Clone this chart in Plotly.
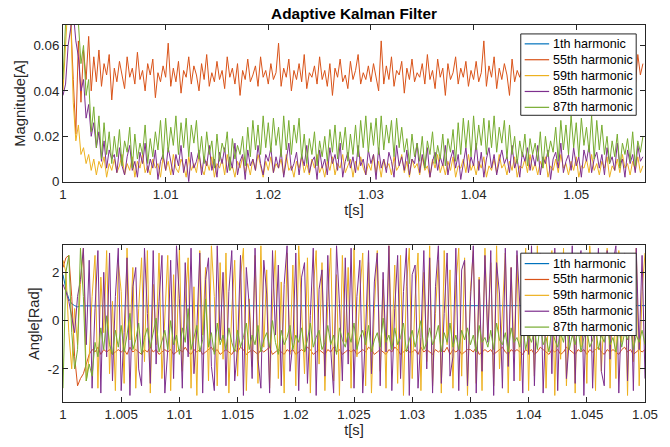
import plotly.graph_objects as go

# ---------------- sampling ----------------
T0 = 1.0
DT = 0.00025

# ---------------- magnitude data (mA) ----------------
mag_h1_t = [1.0, 1.0565]
mag_h1_A = [1.0, 1.0]  # off-scale (above axis range)

mag_h55_mA = [
    80, 95, 90, 72, 45, 21, 62, 35, 58, 45, 64, 40, 55, 44, 58, 42, 52, 47, 56, 36,
    50, 44, 53, 47, 41, 55, 46, 50, 43, 57, 45, 49, 40, 52, 47, 54, 37, 48, 44, 51,
    46, 61, 42, 50, 44, 53, 39, 49, 46, 55, 43, 51, 47, 40, 52, 45, 56, 42, 48, 44,
    53, 45, 49, 41, 55, 46, 50, 43, 52, 38, 49, 45, 54, 44, 47, 51, 42, 55, 46, 49,
    43, 52, 45, 48, 61, 42, 50, 46, 54, 40, 49, 45, 52, 44, 56, 41, 48, 46, 51, 43,
    55, 45, 49, 42, 52, 38, 50, 46, 54, 44, 47, 41, 53, 45, 49, 56, 43, 48, 45, 51,
    44, 52, 46, 40, 62, 43, 51, 45, 55, 42, 49, 47, 53, 39, 50, 45, 54, 44, 48, 46,
    52, 43, 56, 45, 49, 41, 54, 46, 50, 38, 52, 45, 48, 55, 43, 50, 46, 53, 42, 49,
    45, 53, 44, 48, 62, 42, 51, 46, 55, 41, 50, 45, 52, 47, 38, 54, 44, 49, 46, 51,
    43, 55, 46, 49, 42, 53, 45, 50, 39, 52, 47, 54, 44, 48, 45, 51, 56, 43, 49, 46,
    52, 44, 55, 41, 60, 46, 50, 43, 53, 45, 48, 40, 52, 47, 55, 44, 49, 46, 51, 43,
    54, 45, 50, 42, 56, 47, 52,
]

mag_h59_mA = [
    40, 60, 80, 72, 35, 18, 25, 12, 15, 8, 12, 5, 10, 3, 9, 6, 11, 2, 8, 5,
    10, 4, 7, 12, 3, 8, 5, 11, 2, 9, 6, 12, 4, 7, 3, 10, 6, 8, 2, 11,
    5, 9, 3, 12, 6, 4, 10, 7, 2, 11, 5, 8, 4, 12, 6, 3, 9, 5, 11, 2,
    8, 6, 10, 3, 12, 5, 7, 2, 9, 6, 11, 4, 8, 3, 10, 5, 12, 7, 2, 9,
    5, 11, 4, 8, 6, 10, 3, 12, 5, 7, 2, 9, 6, 11, 4, 8, 3, 10, 6, 12,
    4, 7, 2, 9, 5, 11, 3, 8, 6, 12, 4, 7, 10, 2, 9, 5, 11, 6, 3, 8,
    5, 12, 4, 9, 2, 10, 6, 8, 3, 11, 5, 7, 12, 4, 9, 2, 10, 6, 8, 3,
    11, 5, 7, 2, 10, 6, 12, 4, 8, 3, 9, 5, 11, 2, 7, 6, 10, 4, 12, 5,
    8, 3, 9, 6, 11, 2, 7, 5, 10, 4, 12, 6, 8, 3, 9, 5, 11, 2, 7, 6,
    10, 4, 12, 5, 8, 3, 9, 6, 11, 2, 7, 5, 10, 4, 12, 6, 8, 3, 9, 5,
    11, 2, 7, 6, 10, 4, 12, 5, 8, 3, 9, 6, 11, 2, 7, 5, 10, 4, 12, 6,
    8, 3, 9, 5, 11, 4, 7,
]

mag_h85_mA = [
    38, 43, 60, 70, 75, 62, 55, 40, 45, 28, 34, 20, 26, 15, 22, 9, 18, 6, 14, 10,
    12, 4, 15, 7, 3, 11, 16, 5, 9, 2, 13, 8, 17, 4, 10, 6, 14, 1, 9, 12,
    5, 15, 8, 3, 12, 7, 16, 4, 10, 0, 13, 6, 9, 14, 3, 11, 7, 16, 5, 10,
    2, 13, 8, 15, 4, 11, 6, 17, 3, 9, 12, 1, 14, 7, 10, 5, 16, 8, 3, 12,
    9, 15, 4, 11, 6, 14, 2, 10, 17, 5, 8, 13, 3, 12, 7, 16, 4, 9, 11, 1,
    14, 6, 10, 3, 15, 8, 12, 5, 17, 2, 9, 13, 6, 11, 4, 16, 7, 10, 3, 14,
    8, 12, 1, 15, 6, 10, 4, 13, 9, 2, 16, 7, 11, 5, 14, 3, 10, 8, 17, 4,
    12, 6, 15, 2, 9, 13, 5, 11, 7, 16, 3, 10, 14, 6, 12, 1, 9, 15, 4, 11,
    7, 17, 5, 13, 2, 10, 15, 6, 12, 3, 9, 14, 8, 11, 4, 16, 6, 10, 2, 13,
    9, 15, 5, 12, 7, 16, 3, 11, 8, 14, 1, 10, 13, 6, 17, 4, 9, 12, 5, 15,
    7, 11, 2, 14, 9, 16, 4, 10, 13, 6, 12, 3, 15, 8, 11, 5, 17, 7, 10, 2,
    14, 8, 12, 4, 16, 9, 11,
]

mag_h87_mA = [
    45, 92, 95, 90, 85, 78, 70, 52, 60, 38, 45, 22, 33, 15, 29, 10, 26, 12, 22, 8,
    20, 11, 23, 7, 18, 13, 24, 6, 21, 10, 17, 12, 25, 8, 19, 11, 22, 14, 27, 10,
    28, 13, 24, 16, 29, 12, 26, 15, 28, 11, 25, 17, 27, 10, 20, 8, 22, 12, 18, 6,
    21, 9, 17, 13, 22, 5, 19, 10, 16, 12, 20, 7, 24, 11, 27, 14, 25, 12, 29, 15,
    26, 13, 28, 16, 24, 11, 29, 14, 27, 12, 25, 17, 28, 10, 21, 8, 19, 12, 22, 7,
    18, 11, 20, 9, 23, 13, 25, 10, 22, 14, 24, 9, 21, 12, 25, 11, 27, 15, 29, 13,
    26, 16, 28, 12, 29, 14, 25, 17, 27, 11, 28, 15, 24, 13, 19, 8, 21, 11, 17, 9,
    20, 6, 18, 12, 22, 8, 16, 10, 21, 7, 19, 13, 23, 9, 26, 12, 28, 15, 27, 11,
    29, 14, 25, 16, 28, 12, 27, 15, 29, 13, 24, 17, 27, 10, 25, 12, 20, 8, 18, 11,
    21, 7, 19, 12, 17, 9, 22, 6, 20, 11, 18, 13, 24, 9, 27, 14, 25, 12, 29, 15,
    26, 11, 28, 16, 24, 13, 29, 10, 27, 14, 25, 12, 20, 8, 18, 11, 21, 6, 17, 12,
    19, 9, 22, 7, 18, 13, 20,
]

# ---------------- angle data (0.1 rad units) ----------------
ang_h1_t = [1.0, 1.00025, 1.0005, 1.00075, 1.001, 1.00125, 1.0015, 1.05]
ang_h1_rad = [1.9, 1.3, 0.9, 0.7, 0.62, 0.57, 0.61, 0.62]

ang_h55_d = [
    22, 26, 27, 10, -15, -27, -24, -22, -18, -14, -12, -13, -11, -14, -12, -13, -12, -14, -13, -12,
    -13, -12, -14, -11, -13, -12, -13, -14, -12, -13, -11, -13, -12, -14, -13, -12, -13, -12, -14, -13,
    -12, -13, -11, -13, -14, -12, -13, -12, -14, -13, -12, -11, -13, -12, -14, -13, -12, -13, -14, -12,
    -13, -11, -12, -14, -13, -12, -13, -14, -12, -13, -12, -11, -14, -13, -12, -13, -14, -12, -13, -12,
    -14, -13, -12, -13, -11, -12, -14, -13, -12, -13, -14, -12, -13, -11, -13, -12, -14, -13, -12, -13,
    -12, -14, -13, -12, -13, -11, -12, -14, -13, -12, -13, -14, -12, -13, -11, -12, -14, -13, -12, -13,
    -13, -12, -14, -11, -13, -12, -13, -14, -12, -13, -12, -13, -11, -14, -12, -13, -12, -14, -13, -12,
    -12, -13, -11, -14, -13, -12, -13, -12, -14, -13, -12, -11, -13, -14, -12, -13, -12, -13, -14, -12,
    -13, -12, -14, -13, -11, -12, -13, -14, -12, -13, -12, -14, -13, -11, -12, -13, -14, -12, -13, -12,
    -14, -12, -13, -12, -11, -13, -14, -12, -13, -12, -13, -14, -12, -11, -13, -12, -14, -13, -12, -13,
    -12,
]

ang_h59_d = [
    25, 20, -5, -20, 5, -10, 15, 30, -25, -15, 10, 27, -28, 18, -5, 29, -22, 8, -29, 24,
    12, -26, 30, -8, 22, -28, 5, 26, -17, 29, -30, 15, -10, 28, -24, 3, 27, -29, 19, -13,
    30, -21, 7, 26, -28, 14, -31, 29, -6, 22, -25, 31, 10, -27, 24, -16, 28, -30, 4, 25,
    -23, 18, 30, -29, 9, -19, 27, -26, 31, -11, 21, -28, 6, 29, -24, 16, -30, 28, -14, 23,
    -27, 31, 2, -22, 26, -30, 13, 29, -18, 24, -29, 8, 30, -25, 19, -31, 27, -9, 22, -28,
    30, -15, 11, 28, -27, 24, -30, 5, 29, -21, 17, -28, 31, -12, 23, -26, 27, -31, 14, 30,
    -24, 9, 28, -29, 20, -17, 31, -27, 3, 25, -30, 29, -10, 21, -28, 15, 30, -23, 26, -31,
    12, 29, -26, 18, -29, 30, -8, 24, -27, 31, -20, 6, 28, -30, 22, -14, 27, -25, 10, 30,
    -29, 19, -23, 31, -5, 26, -28, 13, 29, -31, 21, -16, 30, -27, 8, 25, -30, 28, -11, 23,
    -26, 31, 15, -29, 27, -21, 4, 30, -28, 18, -24, 29, -9, 26, -31, 22, -17, 30, -27, 12,
    28,
]

ang_h85_d = [
    15, 12, 8, 2, -5, 10, 17, 30, -10, 25, -28, 5, 29, -30, 20, -15, 28, -25, 10, 30,
    -29, -5, 26, -31, 14, 22, -20, -27, 30, 3, -26, 29, -18, 8, 27, -30, -12, 25, -24, 31,
    9, -28, 24, -15, 30, -22, -3, 28, -30, 17, 26, -19, -29, 31, -8, 20, -27, 12, 29, -25,
    -11, 27, -31, 22, 6, -24, 30, -16, -28, 25, 11, -30, 29, -6, 23, -27, 15, 31, -21, -9,
    28, -29, 18, 24, -26, 2, 30, -31, 13, 21, -23, 27, -12, -30, 31, 7, -25, 26, -18, 30,
    -28, 10, 25, -30, -4, 29, -22, 16, 28, -27, 20, -13, 31, -29, 5, 27, -24, 12, 30, -31,
    19, 23, -28, -7, 29, -20, 26, -30, 14, 31, -26, 3, 28, -23, -15, 30, -29, 21, 25, -27,
    8, 31, -30, 17, -21, 27, -9, 29, -31, 24, 11, -28, 30, -19, 22, -25, 29, 6, -30, 26,
    -14, 31, -27, 18, 28, -30, 4, 25, -22, 30, -29, 13, 27, -24, -8, 31, -26, 20, 29, -31,
    15, 26, -28, 9, 30, -21, -27, 29, -16, 24, 31, -30, 7, 28, -25, 19, -29, 30, -12, 27,
    -24,
]

ang_h87_d = [
    -28, 20, 27, -5, -20, -12, 30, 10, -25, -18, -23, -9, -15, -3, -12, 2, -10, -14, -4, -11,
    -2, -13, -6, 3, -12, -8, -1, -14, -7, -3, -11, -5, 1, -13, -9, -4, -12, 0, -10, -6,
    -14, -3, -9, 5, -12, -7, -2, -13, -8, 9, -11, -5, -14, -1, -10, -6, -12, -3, -9, -13,
    -4, -11, -7, -1, -12, -6, -10, -2, -13, -8, -5, -11, 0, -9, -14, -4, -10, -7, -2, -12,
    -6, -9, -3, -13, -8, -1, -11, -7, -4, -12, -9, -2, -10, -6, -14, -3, -8, -11, -5, -9,
    -1, -12, -7, -4, -10, -2, -13, -8, -5, -11, 1, -9, -6, -12, -3, -10, -7, -1, -13, -8,
    -4, -11, -6, 0, -12, -9, -3, -10, -7, -2, -13, -5, -9, -1, -11, -6, -12, -4, -8, -3,
    -10, -6, -13, -2, -9, -7, -11, -4, -12, -1, -8, -10, -5, -13, -3, -9, -7, -11, -2, -12,
    -6, -9, -4, -12, -1, -10, -7, -13, -3, -8, -11, -5, -9, 0, -12, -6, -10, -3, -13, -7,
    -4, -11, -8, -2, -12, -6, -9, -1, -10, -7, -13, -3, -11, -5, -8, -2, -12, -6, -9, -4,
    -10,
]

names = ["1th harmonic", "55th harmonic", "59th harmonic", "85th harmonic", "87th harmonic"]
colors = ["#0072BD", "#D95319", "#EDB120", "#7E2F8E", "#77AC30"]

x_top_ticks = [1.0, 1.01, 1.02, 1.03, 1.04, 1.05]
x_top_text = ["1", "1.01", "1.02", "1.03", "1.04", "1.05"]
y_top_ticks = [0, 0.02, 0.04, 0.06]
y_top_text = ["0", "0.02", "0.04", "0.06"]
x_bot_ticks = [1.0, 1.005, 1.01, 1.015, 1.02, 1.025, 1.03, 1.035, 1.04, 1.045, 1.05]
x_bot_text = ["1", "1.005", "1.01", "1.015", "1.02", "1.025", "1.03", "1.035", "1.04", "1.045", "1.05"]
y_bot_ticks = [-2, 0, 2]
y_bot_text = ["-2", "0", "2"]


def times(n):
    return [T0 + DT * i for i in range(n)]


FONT = "Liberation Sans, Arial, Helvetica, sans-serif"
AX = "#262626"

# figure geometry (pixels)
W, H = 670, 447
ML, MR, MT, MB = 63, 12, 25, 42
PW = W - ML - MR
PH = H - MT - MB


def px_x(px):
    return (px - ML) / PW


def px_y(py):
    return (H - MB - py) / PH


fig = go.Figure()

top_series = [
    (mag_h1_t, mag_h1_A),
    (times(len(mag_h55_mA)), [v / 1000 for v in mag_h55_mA]),
    (times(len(mag_h59_mA)), [v / 1000 for v in mag_h59_mA]),
    (times(len(mag_h85_mA)), [v / 1000 for v in mag_h85_mA]),
    (times(len(mag_h87_mA)), [v / 1000 for v in mag_h87_mA]),
]
for (tx, vy), nm, c in zip(top_series, names, colors):
    fig.add_trace(go.Scatter(x=tx, y=vy, mode="lines", name=nm,
                             line=dict(color=c, width=1), xaxis="x", yaxis="y",
                             showlegend=False))

bot_series = [
    (ang_h1_t, ang_h1_rad),
    (times(len(ang_h55_d)), [v / 10 for v in ang_h55_d]),
    (times(len(ang_h59_d)), [v / 10 for v in ang_h59_d]),
    (times(len(ang_h85_d)), [v / 10 for v in ang_h85_d]),
    (times(len(ang_h87_d)), [v / 10 for v in ang_h87_d]),
]
for (tx, vy), nm, c in zip(bot_series, names, colors):
    fig.add_trace(go.Scatter(x=tx, y=vy, mode="lines", name=nm,
                             line=dict(color=c, width=1), xaxis="x2", yaxis="y2",
                             showlegend=False))

# ---------------- legends (boxed, MATLAB style) ----------------
shapes = []
annotations = []


def add_legend(box_left, box_top, box_right, box_bottom, row0, row_step):
    shapes.append(dict(type="rect", xref="paper", yref="paper", layer="above",
                       x0=px_x(box_left), x1=px_x(box_right),
                       y0=px_y(box_bottom), y1=px_y(box_top),
                       fillcolor="white", line=dict(color=AX, width=1)))
    for k, (nm, c) in enumerate(zip(names, colors)):
        yy = px_y(row0 + k * row_step)
        shapes.append(dict(type="line", xref="paper", yref="paper", layer="above",
                           x0=px_x(box_left + 4), x1=px_x(box_left + 29), y0=yy, y1=yy,
                           line=dict(color=c, width=1.2)))
        annotations.append(dict(text=nm, xref="paper", yref="paper",
                                x=px_x(box_left + 31), y=yy, xanchor="left", yanchor="middle",
                                showarrow=False,
                                font=dict(family=FONT, size=12.6, color="black")))


add_legend(531, 34, 649, 116, 44, 16)
add_legend(531, 255, 649, 338, 265.5, 16)

axis_common = dict(
    showline=True, linecolor=AX, linewidth=1, mirror="ticks",
    ticks="inside", ticklen=5, tickcolor=AX, tickwidth=1,
    showgrid=False, zeroline=False,
    tickfont=dict(family=FONT, size=13.3, color=AX),
)
title_font = dict(family=FONT, size=14.7, color=AX)

fig.update_layout(
    width=W, height=H,
    margin=dict(l=ML, r=MR, t=MT, b=MB),
    paper_bgcolor="white", plot_bgcolor="white",
    showlegend=False,
    title=dict(text="<b>Adaptive Kalman Filter</b>", x=0.5, xref="paper",
               y=1 - 14 / H, yref="container", yanchor="middle",
               font=dict(family=FONT, size=15.3, color="black")),
    xaxis=dict(domain=[0, 1], anchor="y", range=[1.0, 1.0567],
               tickvals=x_top_ticks, ticktext=x_top_text,
               title=dict(text="t[s]", font=title_font, standoff=3), **axis_common),
    yaxis=dict(domain=[0.5842, 1], anchor="x", range=[0, 0.069],
               tickvals=y_top_ticks, ticktext=y_top_text,
               title=dict(text="Magnitude[A]", font=title_font, standoff=4), **axis_common),
    xaxis2=dict(domain=[0, 1], anchor="y2", range=[1.0, 1.05],
                tickvals=x_bot_ticks, ticktext=x_bot_text,
                title=dict(text="t[s]", font=title_font, standoff=3), **axis_common),
    yaxis2=dict(domain=[0, 0.4158], anchor="x2", range=[-3.37, 3.12],
                tickvals=y_bot_ticks, ticktext=y_bot_text,
                title=dict(text="Angle[Rad]", font=title_font, standoff=4), **axis_common),
    shapes=shapes,
    annotations=annotations,
)

fig.write_html("out.html")
